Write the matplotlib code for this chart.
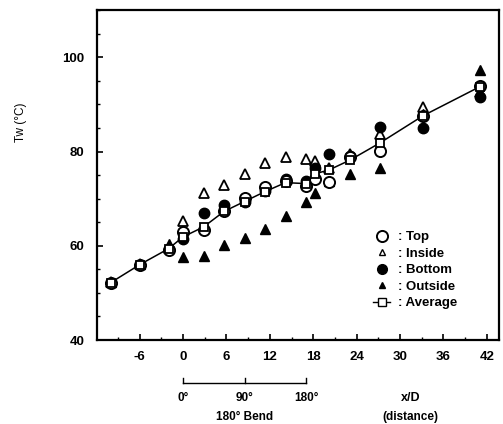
import matplotlib
matplotlib.use("Agg")
import matplotlib.pyplot as plt
from matplotlib.lines import Line2D
from matplotlib.ticker import MultipleLocator

plt.rcParams['font.family'] = ['Liberation Sans', 'DejaVu Sans']
plt.rcParams['axes.unicode_minus'] = False

# measurement stations x/D
x = [-10, -6, -2, 0, 2.83, 5.67, 8.5, 11.33, 14.17, 17, 18.3, 20.2, 23.1, 27.2, 33.2, 41.1]

# wall temperature Tw (C)
top     = [52.2, 56.0, 59.2, 63.0, 63.3, 67.3, 70.1, 72.5, 73.8, 72.6, 74.2, 73.5, 78.8, 80.2, 87.6, 94.0]
inside  = [52.4, 56.2, 59.6, 65.3, 71.2, 72.8, 75.3, 77.6, 78.8, 78.4, 78.0, 76.5, 79.4, 83.8, 89.4, 92.6]
bottom  = [52.0, 55.9, 59.4, 61.5, 67.0, 68.6, 69.3, 71.6, 74.2, 73.8, 76.5, 79.5, 79.0, 85.2, 85.0, 91.6]
outside = [52.3, 56.1, 60.4, 57.6, 57.8, 60.1, 61.6, 63.6, 66.3, 69.3, 71.3, 73.8, 75.3, 76.6, 88.0, 97.2]
average = [52.2, 56.0, 59.4, 61.9, 64.0, 67.3, 69.4, 71.5, 73.4, 73.2, 75.3, 76.1, 78.2, 81.8, 87.6, 93.8]

xticks = [-6, 0, 6, 12, 18, 24, 30, 36, 42]
bend_pos = [0, 8.5, 17]
bend_labels = ['0°', '90°', '180°']

fig = plt.figure(figsize=(5.03, 4.24), dpi=100)
ax = fig.add_axes([0.193, 0.198, 0.799, 0.778])

ax.plot(x, inside, ls='none', marker='^', ms=6.5, mfc='white', mec='black', mew=1.3, zorder=3)
ax.plot(x, outside, ls='none', marker='^', ms=6.5, mfc='black', mec='black', zorder=3)
ax.plot(x, bottom, ls='none', marker='o', ms=7.5, mfc='black', mec='black', zorder=4)
ax.plot(x, top, ls='none', marker='o', ms=8, mfc='white', mec='black', mew=1.4, zorder=5)
ax.plot(x, average, color='black', lw=1.1, marker='s', ms=6, mfc='white', mec='black', mew=1.3, zorder=6)

ax.set_xlim(-11.9, 43.7)
ax.set_ylim(40, 110)
ax.set_xticks(xticks)
ax.xaxis.set_minor_locator(MultipleLocator(3))
ax.set_yticks([40, 60, 80, 100])
ax.yaxis.set_minor_locator(MultipleLocator(5))
ax.tick_params(which='both', direction='in', top=False, right=False, labelsize=9.5)
ax.tick_params(which='major', length=4, width=1.2)
ax.tick_params(which='minor', length=2.5, width=1)
ax.tick_params(axis='x', pad=8)
ax.tick_params(axis='y', pad=9)
for lab in ax.get_xticklabels() + ax.get_yticklabels():
    lab.set_fontweight('bold')
for s in ax.spines.values():
    s.set_linewidth(1.6)

ax.set_ylabel('Tw (°C)', fontsize=8.5)
ax.yaxis.set_label_coords(-0.175, 0.66)

# 180 degree bend bracket under the axis
tr = ax.get_xaxis_transform()
ax.plot([bend_pos[0], bend_pos[-1]], [-0.13, -0.13], transform=tr, color='black', lw=1, clip_on=False)
for p in bend_pos:
    ax.plot([p, p], [-0.13, -0.115], transform=tr, color='black', lw=1, clip_on=False)
for p, t in zip(bend_pos, bend_labels):
    ax.text(p, -0.177, t, transform=tr, ha='center', va='center', fontsize=8.5, fontweight='bold')
ax.text(8.5, -0.232, '180° Bend', transform=tr, ha='center', va='center', fontsize=8.5, fontweight='bold')
ax.text(31.5, -0.177, 'x/D', transform=tr, ha='center', va='center', fontsize=9, fontweight='bold')
ax.text(31.5, -0.232, '(distance)', transform=tr, ha='center', va='center', fontsize=8.5, fontweight='bold')

handles = [
    Line2D([], [], ls='none', marker='o', ms=8, mfc='white', mec='black', mew=1.4),
    Line2D([], [], ls='none', marker='^', ms=5, mfc='white', mec='black', mew=1),
    Line2D([], [], ls='none', marker='o', ms=7, mfc='black', mec='black'),
    Line2D([], [], ls='none', marker='^', ms=4.5, mfc='black', mec='black'),
    Line2D([], [], color='black', lw=1, marker='s', ms=5.5, mfc='white', mec='black'),
]
labels = [': Top', ': Inside', ': Bottom', ': Outside', ': Average']
leg = ax.legend(handles, labels, loc='upper left', bbox_to_anchor=(0.67, 0.35), frameon=False,
                handlelength=1.3, handletextpad=0.6, labelspacing=0.32, borderpad=0,
                prop={'size': 9.5, 'weight': 'bold'})

fig.savefig('out.png', dpi=100)
